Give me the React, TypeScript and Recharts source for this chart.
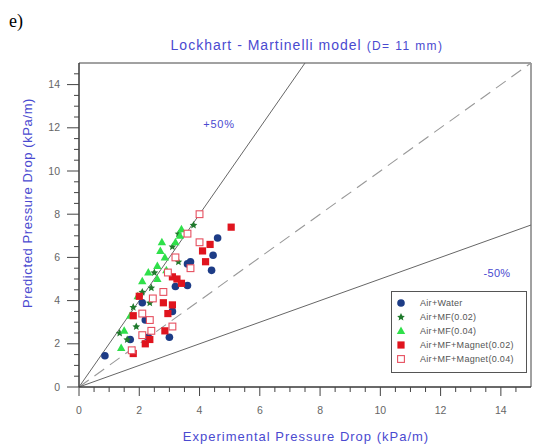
import React from 'react';
import { ScatterChart, Scatter, XAxis, YAxis, ZAxis, ReferenceLine, ReferenceArea, Customized } from 'recharts';

const airWater = [
    [0.86, 1.45], [1.7, 2.2], [2.2, 3.1], [2.3, 2.3], [2.1, 3.9], [3.0, 2.3], [3.1, 3.5],
    [3.2, 4.65], [3.6, 4.7], [3.6, 5.7], [3.7, 5.8], [4.4, 5.4], [4.45, 6.1], [4.6, 6.9],
];
const airMf002 = [
    [1.35, 2.5], [1.6, 2.2], [1.8, 3.7], [1.9, 2.8], [2.1, 4.4], [2.35, 3.9], [2.4, 4.6],
    [2.5, 5.3], [3.1, 6.5], [3.3, 5.8], [3.3, 7.1], [3.8, 7.5],
];
const airMf004 = [
    [1.4, 1.8], [1.5, 2.6], [1.7, 3.3], [1.95, 4.2], [2.1, 4.9], [2.3, 5.3], [2.6, 5.0],
    [2.6, 5.6], [2.7, 6.3], [2.85, 6.0], [2.9, 5.4], [2.75, 6.7], [3.2, 6.7], [3.35, 7.0], [3.4, 7.3],
];
const airMfMagnet002 = [
    [1.8, 1.55], [1.8, 3.3], [2.0, 4.2], [2.2, 2.0], [2.35, 2.2], [2.8, 3.9], [2.85, 2.6],
    [2.95, 3.4], [3.1, 3.8], [3.1, 5.1], [3.25, 5.0], [3.4, 4.8], [4.1, 6.3], [4.2, 5.8],
    [4.35, 6.6], [5.05, 7.4],
];
const airMfMagnet004 = [
    [1.75, 1.7], [2.1, 2.4], [2.1, 3.4], [2.35, 3.1], [2.4, 2.6], [2.45, 4.1], [2.8, 4.4],
    [2.95, 5.3], [3.1, 2.8], [3.2, 6.0], [3.6, 7.1], [3.7, 5.5], [4.0, 6.7], [4.0, 8.0],
];

const majorTicks = [0, 2, 4, 6, 8, 10, 12, 14];
const allTicks = [0, 0.5, 1, 1.5, 2, 2.5, 3, 3.5, 4, 4.5, 5, 5.5, 6, 6.5, 7, 7.5, 8, 8.5, 9, 9.5,
    10, 10.5, 11, 11.5, 12, 12.5, 13, 13.5, 14, 14.5];

const toPts = (arr: number[][]) => arr.map(([x, y]) => ({ x, y }));

const blue = '#4a4ad0';
const tickGray = '#666';

const Circle = (p: any) => <circle cx={p.cx} cy={p.cy} r={3.8} fill="#1d3c86" />;
const SmallStar = (p: any) => {
    const { cx, cy } = p;
    return <polygon points={`${cx},${cy - 4} ${cx + 1.3},${cy - 1.2} ${cx + 3.8},${cy - 1} ${cx + 1.8},${cy + 0.9} ${cx + 2.4},${cy + 3.6} ${cx},${cy + 2} ${cx - 2.4},${cy + 3.6} ${cx - 1.8},${cy + 0.9} ${cx - 3.8},${cy - 1} ${cx - 1.3},${cy - 1.2}`} fill="#1f7a2c" />;
};
const Tri = (p: any) => <polygon points={`${p.cx},${p.cy - 4.5} ${p.cx + 4.2},${p.cy + 3} ${p.cx - 4.2},${p.cy + 3}`} fill="#2fe04a" />;
const Sq = (p: any) => <rect x={p.cx - 3.6} y={p.cy - 3.6} width={7.2} height={7.2} fill="#e0141e" />;
const OpenSq = (p: any) => <rect x={p.cx - 3.4} y={p.cy - 3.4} width={6.8} height={6.8} fill="#fff" stroke="#e65060" strokeWidth={1.1} />;

const series = [
    { name: 'Air+Water', data: airWater, shape: Circle },
    { name: 'Air+MF(0.02)', data: airMf002, shape: SmallStar },
    { name: 'Air+MF(0.04)', data: airMf004, shape: Tri },
    { name: 'Air+MF+Magnet(0.02)', data: airMfMagnet002, shape: Sq },
    { name: 'Air+MF+Magnet(0.04)', data: airMfMagnet004, shape: OpenSq },
];

const XTick = (props: any) => {
    const { x, y, payload } = props;
    const major = majorTicks.includes(payload.value);
    return (
        <g>
            <line x1={x} x2={x} y1={y} y2={y + (major ? 9 : 5)} stroke="#444" />
            {major && <text x={x} y={y + 27} textAnchor="middle" fontSize={10.5} fill={tickGray}>{payload.value}</text>}
        </g>
    );
};

const YTick = (props: any) => {
    const { x, y, payload } = props;
    const major = majorTicks.includes(payload.value);
    return (
        <g>
            <line x1={x} x2={x - (major ? 12 : 5)} y1={y} y2={y} stroke="#444" />
            {major && <text x={x - 19} y={y + 3.5} textAnchor="end" fontSize={10.5} fill={tickGray}>{payload.value}</text>}
        </g>
    );
};

const LegendBox = () => (
    <div style={{ position: 'absolute', left: 391, top: 291, width: 136, height: 82, border: '1px solid #555', background: '#fff', boxSizing: 'border-box', paddingTop: 4 }}>
        {series.map((s) => {
            const Shape = s.shape;
            return (
                <div key={s.name} style={{ height: 14, display: 'flex', alignItems: 'center', fontSize: 9, letterSpacing: 0.3, lineHeight: '10px', color: '#555', whiteSpace: 'nowrap' }}>
                    <svg width={24} height={12} style={{ display: 'block' }}><Shape cx={9} cy={6} /></svg>
                    <span style={{ marginLeft: 4 }}>{s.name}</span>
                </div>
            );
        })}
    </div>
);

const Annotations = () => (
    <g fontFamily="Liberation Sans, Arial, sans-serif">
        <text x={9} y={27} fontSize={18} fontFamily="Liberation Serif, serif" fill="#000">e)</text>
        <text x={307} y={50} textAnchor="middle" fill={blue}>
            <tspan fontSize={14} letterSpacing={1}>Lockhart - Martinelli model </tspan>
            <tspan fontSize={12} letterSpacing={1.4}>(D= 11 mm)</tspan>
        </text>
        <text x={219} y={128} textAnchor="middle" fontSize={11} letterSpacing={0.8} fill={blue}>+50%</text>
        <text x={497} y={277} textAnchor="middle" fontSize={11} letterSpacing={0.3} fill={blue}>-50%</text>
        <text x={306} y={441} textAnchor="middle" fontSize={13} letterSpacing={1} fill={blue}>Experimental Pressure Drop (kPa/m)</text>
        <text x={32} y={203} textAnchor="middle" fontSize={13} letterSpacing={0.6} fill={blue} transform="rotate(-90 32 203)">Predicted Pressure Drop (kPa/m)</text>
    </g>
);

export default function App() {
    return (
        <div style={{ position: 'absolute', left: 0, top: 0, width: 535, height: 448, background: '#fff', fontFamily: 'Liberation Sans, Arial, sans-serif' }}>
            <ScatterChart width={535} height={448} margin={{ top: 63, right: 4, left: 0, bottom: 0 }}>
                <XAxis type="number" dataKey="x" domain={[0, 15]} ticks={allTicks} interval={0}
                    height={61} tickSize={0} tickMargin={0} tickLine={false} tick={<XTick />}
                    axisLine={{ stroke: '#333' }} allowDataOverflow />
                <YAxis type="number" dataKey="y" domain={[0, 15]} ticks={allTicks} interval={0}
                    width={79} tickSize={0} tickMargin={0} tickLine={false} tick={<YTick />}
                    axisLine={{ stroke: '#333' }} allowDataOverflow />
                <ZAxis range={[50, 50]} />
                <ReferenceArea x1={0} x2={15} y1={0} y2={15} fill="none" stroke="#444" strokeWidth={1} />
                <ReferenceLine segment={[{ x: 0, y: 0 }, { x: 7.5, y: 15 }]} stroke="#666" strokeWidth={1} />
                <ReferenceLine segment={[{ x: 0, y: 0 }, { x: 15, y: 15 }]} stroke="#999" strokeWidth={1.1} strokeDasharray="12 7" />
                <ReferenceLine segment={[{ x: 0, y: 0 }, { x: 15, y: 7.5 }]} stroke="#666" strokeWidth={1} />
                {series.map((s) => (
                    <Scatter key={s.name} name={s.name} data={toPts(s.data)} shape={<s.shape />} isAnimationActive={false} />
                ))}
                <Customized component={Annotations} />
            </ScatterChart>
            <LegendBox />
        </div>
    );
}
